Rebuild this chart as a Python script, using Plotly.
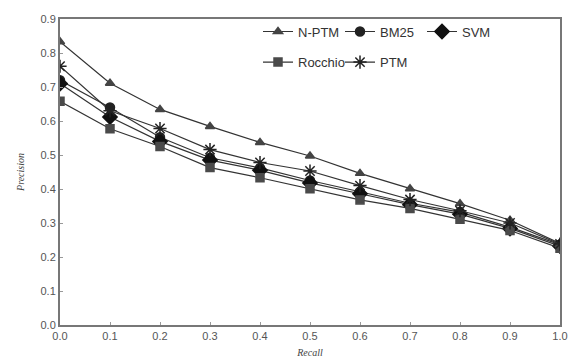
import plotly.graph_objects as go

recall = [0.0, 0.1, 0.2, 0.3, 0.4, 0.5, 0.6, 0.7, 0.8, 0.9, 1.0]
n_ptm = [0.833, 0.711, 0.634, 0.584, 0.537, 0.497, 0.446, 0.401, 0.357, 0.308, 0.240]
bm25 = [0.720, 0.640, 0.552, 0.492, 0.462, 0.425, 0.392, 0.358, 0.332, 0.288, 0.236]
svm = [0.710, 0.612, 0.540, 0.485, 0.455, 0.418, 0.386, 0.354, 0.326, 0.284, 0.232]
rocchio = [0.658, 0.577, 0.525, 0.463, 0.433, 0.401, 0.368, 0.343, 0.311, 0.278, 0.226]
ptm = [0.761, 0.630, 0.578, 0.516, 0.478, 0.453, 0.410, 0.369, 0.336, 0.300, 0.238]

x_ticks = [0.0, 0.1, 0.2, 0.3, 0.4, 0.5, 0.6, 0.7, 0.8, 0.9, 1.0]
y_ticks = [0.0, 0.1, 0.2, 0.3, 0.4, 0.5, 0.6, 0.7, 0.8, 0.9]

series = [
    ("N-PTM", n_ptm, "triangle-up", 8, "#444444", "legend"),
    ("BM25", bm25, "circle", 9, "#222222", "legend"),
    ("SVM", svm, "diamond", 11, "#111111", "legend"),
    ("Rocchio", rocchio, "square", 8, "#4a4a4a", "legend2"),
    ("PTM", ptm, "asterisk-open", 11, "#222222", "legend2"),
]

fig = go.Figure()
for name, vals, sym, size, col, leg in series:
    fig.add_trace(go.Scatter(
        x=recall, y=vals, name=name, mode="lines+markers",
        line=dict(color="#333333", width=1.2),
        marker=dict(symbol=sym, size=size, color=col,
                    line=dict(color=col, width=1.5)),
        legend=leg,
    ))

legend_common = dict(
    orientation="h", xanchor="left", yanchor="middle",
    bgcolor="rgba(0,0,0,0)", borderwidth=0,
    font=dict(family="Liberation Sans, Arial", size=13, color="#333333"),
    entrywidth=37, entrywidthmode="pixels", itemwidth=30,
    tracegroupgap=0,
)

fig.update_layout(
    width=579, height=362,
    margin=dict(l=52, r=27, t=5, b=45),
    paper_bgcolor="white", plot_bgcolor="white",
    showlegend=True,
    legend=dict(x=0.396, y=0.959, **legend_common),
    legend2=dict(x=0.396, y=0.859, **legend_common),
    font=dict(family="Liberation Sans, Arial", size=11, color="#555555"),
    xaxis=dict(
        range=[0, 1.0], tickvals=x_ticks, ticktext=[f"{v:.1f}" for v in x_ticks],
        showgrid=False, zeroline=False, showline=True, linecolor="#777777",
        linewidth=2, mirror=True, ticks="inside", ticklen=3, tickcolor="#999999",
        title=dict(text="<i>Recall</i>", font=dict(family="Liberation Serif, Times New Roman", size=10, color="#444444"), standoff=8),
        tickfont=dict(size=11, color="#555555"),
    ),
    yaxis=dict(
        range=[0, 0.9], tickvals=y_ticks, ticktext=[f"{v:.1f}" for v in y_ticks],
        showgrid=False, zeroline=False, showline=True, linecolor="#777777",
        linewidth=2, mirror=True, ticks="inside", ticklen=3, tickcolor="#999999",
        title=dict(text="<i>Precision</i>", font=dict(family="Liberation Serif, Times New Roman", size=10, color="#444444"), standoff=14),
        tickfont=dict(size=11, color="#555555"),
    ),
)

fig.write_html("out.html")
